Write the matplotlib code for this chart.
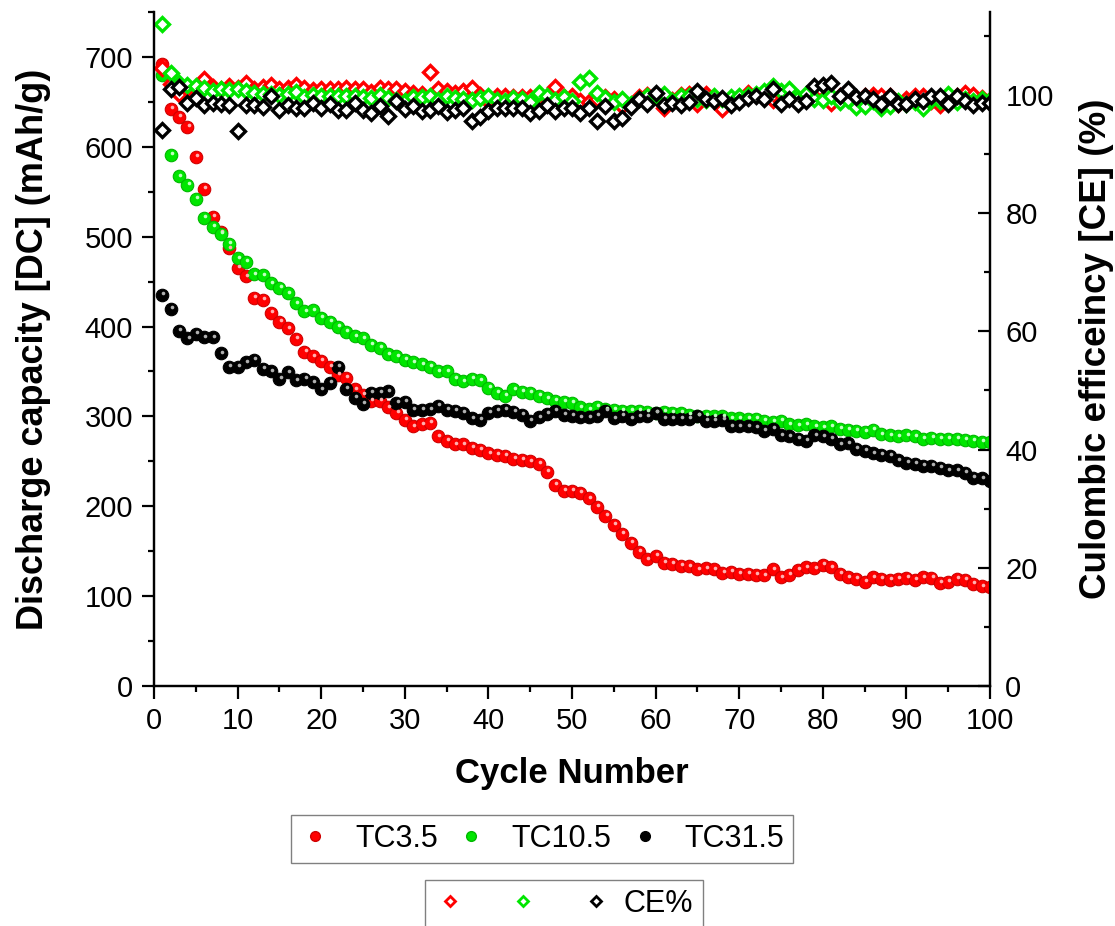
#!/usr/bin/env python3
"""
Discharge capacity and coulombic efficiency versus cycle number
for three samples (TC3.5, TC10.5, TC31.5).
"""

import numpy as np
import matplotlib
matplotlib.use("Agg")
import matplotlib.pyplot as plt
from matplotlib.ticker import MultipleLocator
from matplotlib.lines import Line2D
from matplotlib.transforms import offset_copy

plt.rcParams['font.family'] = ['Liberation Sans', 'DejaVu Sans']

# Cycle numbers
cycles = np.arange(1, 101)

# Discharge capacity, mAh/g
dc_tc35 = [692, 642, 633, 622, 589, 553, 522, 505, 487, 465,
           456, 432, 430, 415, 405, 398, 386, 372, 367, 362,
           355, 346, 343, 330, 324, 317, 317, 310, 304, 296,
           289, 291, 293, 278, 273, 269, 269, 265, 263, 259,
           257, 256, 253, 252, 250, 247, 238, 224, 217, 217,
           215, 209, 199, 189, 179, 169, 159, 149, 141, 145,
           137, 136, 134, 133, 130, 131, 130, 126, 127, 125,
           125, 124, 123, 130, 121, 124, 129, 132, 131, 135,
           132, 125, 121, 119, 116, 121, 119, 118, 119, 120,
           118, 121, 120, 115, 116, 119, 118, 114, 111, 110]

dc_tc105 = [680, 591, 567, 558, 542, 521, 511, 503, 492, 476,
            472, 458, 457, 448, 443, 437, 426, 417, 418, 410,
            405, 400, 394, 389, 387, 380, 376, 369, 367, 363,
            360, 358, 355, 350, 350, 342, 339, 342, 340, 332,
            326, 323, 330, 327, 326, 323, 320, 317, 316, 315,
            310, 308, 311, 308, 307, 306, 306, 306, 305, 304,
            305, 304, 304, 302, 301, 301, 300, 300, 298, 298,
            297, 297, 295, 294, 295, 291, 290, 291, 289, 288,
            289, 286, 285, 284, 283, 285, 280, 279, 278, 279,
            278, 275, 276, 275, 275, 275, 274, 273, 272, 271]

dc_tc315 = [435, 420, 395, 387, 392, 388, 388, 370, 355, 355,
            360, 363, 353, 350, 342, 349, 340, 342, 338, 330,
            337, 355, 331, 321, 314, 326, 326, 328, 315, 316,
            307, 307, 308, 312, 307, 306, 304, 298, 296, 304,
            306, 307, 305, 302, 295, 299, 303, 306, 302, 301,
            299, 299, 301, 306, 298, 301, 297, 300, 300, 304,
            297, 297, 297, 297, 301, 295, 295, 296, 289, 289,
            289, 288, 284, 286, 279, 278, 275, 273, 279, 278,
            275, 269, 270, 264, 262, 259, 257, 256, 251, 248,
            247, 245, 245, 243, 240, 240, 237, 232, 231, 228]

# Coulombic efficiency, %
ce_tc35 = [104.5, 101.9, 100.2, 101.0, 101.2, 102.6, 101.3, 101.0, 101.5, 101.2,
           102.0, 101.0, 101.3, 101.7, 101.0, 101.1, 101.7, 101.1, 100.8, 100.9,
           101.0, 101.0, 101.2, 100.9, 100.9, 100.5, 101.2, 100.9, 100.9, 100.7,
           100.3, 100.2, 103.8, 100.9, 100.7, 100.3, 100.6, 101.1, 100.0, 99.0,
           99.8, 99.8, 99.7, 99.6, 99.6, 99.8, 99.6, 101.3, 99.6, 99.8,
           98.9, 98.8, 99.3, 99.6, 99.3, 98.1, 98.2, 99.6, 100.0, 99.6,
           97.7, 99.2, 99.9, 100.2, 98.5, 100.2, 99.6, 97.6, 99.2, 99.6,
           100.3, 100.0, 99.9, 99.2, 98.9, 99.4, 99.2, 99.6, 99.6, 99.3,
           98.6, 99.8, 99.6, 99.3, 99.8, 100.0, 99.8, 99.8, 98.5, 99.3,
           99.8, 99.8, 99.0, 98.2, 99.8, 99.8, 100.3, 100.0, 99.4, 99.2]

ce_tc105 = [111.9, 103.6, 102.0, 101.7, 101.5, 101.1, 100.7, 101.0, 100.8, 101.0,
            100.6, 100.3, 100.2, 100.2, 100.0, 100.2, 100.5, 99.6, 100.0, 99.8,
            99.8, 99.8, 99.8, 99.8, 99.6, 99.4, 100.0, 99.4, 99.2, 99.0,
            99.6, 99.6, 99.8, 99.2, 99.8, 99.4, 99.3, 99.2, 99.4, 99.8,
            99.2, 99.0, 99.4, 99.3, 98.8, 100.3, 99.8, 99.2, 99.6, 99.0,
            102.1, 102.8, 100.3, 99.4, 98.8, 99.3, 98.5, 99.3, 99.8, 99.8,
            100.2, 99.0, 99.8, 99.8, 99.3, 99.2, 99.8, 99.3, 99.6, 99.8,
            99.9, 100.2, 100.6, 101.5, 100.7, 100.9, 99.4, 100.2, 99.3, 99.2,
            99.8, 98.8, 99.2, 97.9, 98.1, 99.0, 97.7, 98.1, 98.9, 98.5,
            98.8, 97.7, 99.2, 98.9, 100.2, 98.8, 99.3, 99.0, 99.3, 99.2]

ce_tc315 = [94.0, 101.0, 101.3, 98.6, 99.4, 98.2, 98.6, 98.5, 98.3, 93.9,
            98.2, 98.3, 97.9, 99.8, 97.5, 98.3, 97.7, 97.7, 98.6, 97.7,
            98.5, 97.5, 97.5, 98.6, 97.5, 96.9, 98.1, 96.4, 99.0, 97.6,
            98.1, 97.3, 97.5, 98.1, 97.1, 97.5, 97.7, 95.5, 96.2, 97.3,
            97.7, 97.7, 97.7, 97.7, 96.9, 97.3, 98.3, 97.3, 97.7, 97.7,
            96.9, 97.7, 95.5, 98.1, 95.5, 96.0, 97.9, 99.3, 98.5, 100.3,
            98.2, 98.6, 98.2, 98.8, 100.7, 99.3, 98.9, 99.4, 98.2, 98.8,
            99.4, 99.8, 99.3, 100.9, 98.5, 99.3, 98.5, 99.0, 101.5, 101.7,
            102.0, 99.8, 101.0, 99.6, 99.8, 99.3, 98.5, 99.8, 98.5, 98.5,
            99.3, 98.9, 99.8, 99.8, 98.5, 99.8, 99.0, 98.2, 98.6, 98.6]

labels = ['TC3.5', 'TC10.5', 'TC31.5']
colors = ['#ff0000', '#00e600', '#000000']
edges = ['#d00000', '#00b800', '#000000']
shine = ['#ffb0b0', '#c0ffc0', '#b0b0b0']

fig = plt.figure(figsize=(11.15, 9.26), dpi=100)
ax1 = fig.add_axes([154/1115, 1 - 686/926, 836/1115, 674/926])
ax2 = ax1.twinx()

# Discharge capacity: shaded balls on the left axis
hi = offset_copy(ax1.transData, fig=fig, x=0.8, y=1.2, units='points')
for dc, c, e, s in zip([dc_tc35, dc_tc105, dc_tc315], colors, edges, shine):
    ax1.plot(cycles, dc, 'o', ms=9, mfc=c, mec=e, mew=0.8, ls='none', zorder=3)
    ax1.plot(cycles, dc, 'o', ms=2.6, mfc=s, mec='none', ls='none',
             transform=hi, zorder=4)

# Coulombic efficiency: open diamonds on the right axis
for ce, c in zip([ce_tc35, ce_tc105, ce_tc315], colors):
    ax2.plot(cycles, ce, 'D', ms=6.8, mfc='white', mec=c, mew=2.4, ls='none')

ax1.set_xlim(0, 100)
ax1.set_ylim(0, 750)
ax2.set_ylim(0, 114)

ax1.xaxis.set_major_locator(MultipleLocator(10))
ax1.xaxis.set_minor_locator(MultipleLocator(5))
ax1.yaxis.set_major_locator(MultipleLocator(100))
ax1.yaxis.set_minor_locator(MultipleLocator(50))
ax2.yaxis.set_major_locator(MultipleLocator(20))
ax2.yaxis.set_minor_locator(MultipleLocator(10))

for ax in (ax1, ax2):
    ax.spines['top'].set_visible(False)
    for sp in ax.spines.values():
        sp.set_linewidth(1.6)

ax1.tick_params(axis='both', which='major', direction='out', length=9,
                width=1.6, labelsize=21, pad=6)
ax1.tick_params(axis='both', which='minor', direction='out', length=4.5,
                width=1.6)
ax2.tick_params(axis='y', which='major', direction='in', length=9,
                width=1.6, labelsize=21, pad=11)
ax2.tick_params(axis='y', which='minor', direction='in', length=4.5,
                width=1.6)

ax1.set_xlabel('Cycle Number', fontsize=25, fontweight='bold', labelpad=16)
ax1.set_ylabel('Discharge capacity [DC] (mAh/g)', fontsize=26,
               fontweight='bold', labelpad=24)
ax2.set_ylabel('Culombic efficeincy [CE] (%)', fontsize=26.5,
               fontweight='bold', labelpad=18)

# Legends below the axes
narrow = {'family': ['Liberation Sans Narrow', 'Liberation Sans'], 'size': 22}
dc_handles = [Line2D([], [], marker='o', ls='none', ms=7, mfc=c, mec=e)
              for c, e in zip(colors, edges)]
leg1 = fig.legend(dc_handles, labels, loc='center',
                  bbox_to_anchor=(542/1115, 1 - 839/926), ncol=3,
                  prop=narrow, frameon=True, fancybox=False,
                  handlelength=1.0, handletextpad=0.8, columnspacing=0.6,
                  borderpad=0.3)
leg1.get_frame().set_edgecolor('#606060')
leg1.get_frame().set_linewidth(1.0)

ce_handles = [Line2D([], [], marker='D', ls='none', ms=5, mfc='white',
                     mec=c, mew=2) for c in colors]
leg2 = fig.legend(ce_handles, ['', '', 'CE%'], loc='upper center',
                  bbox_to_anchor=(564/1115, 1 - 880/926), ncol=3,
                  prop=narrow, frameon=True, fancybox=False,
                  handlelength=1.0, handletextpad=0.4, columnspacing=1.0,
                  borderpad=0.3, borderaxespad=0)
leg2.get_frame().set_edgecolor('#606060')
leg2.get_frame().set_linewidth(1.0)

fig.savefig('out.png', dpi=100)
